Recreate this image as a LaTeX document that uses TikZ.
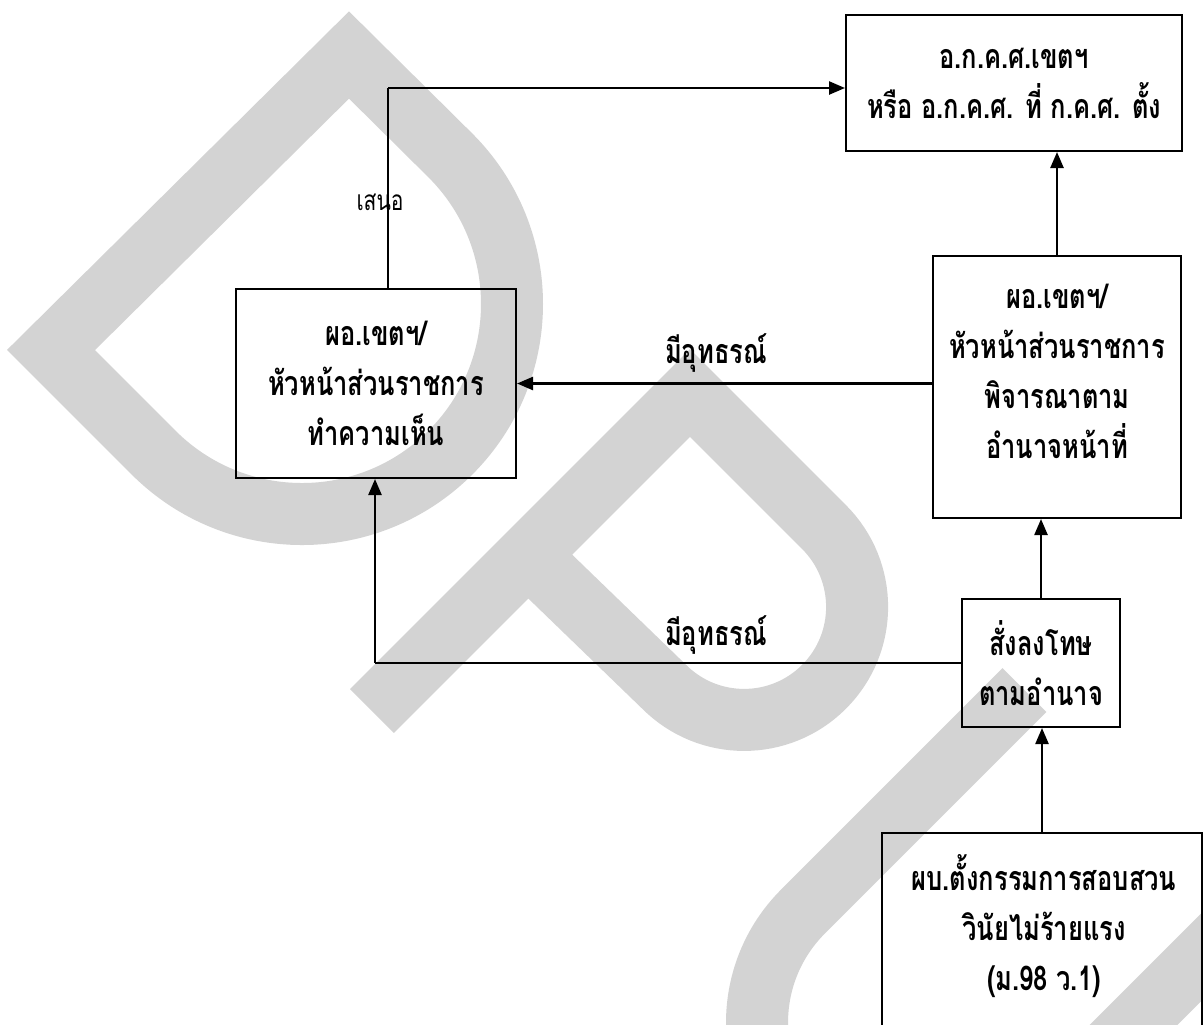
\documentclass[tikz,border=0pt]{standalone}
\usepackage{fontspec}
\usetikzlibrary{arrows.meta}
\newfontfamily\thaifont[Script=Thai,FakeStretch=0.75]{Loma}
\definecolor{wmgray}{RGB}{211,211,211}

\begin{document}
\begin{tikzpicture}[
	x=0.5pt,
	y=-0.5pt,
	>={Triangle[length=8pt,width=6.5pt]},
	box/.style={
		rectangle,
		draw=black,
		line width=1pt,
		align=center,
		inner sep=0pt,
		font=\thaifont\bfseries\fontsize{17}{25}\selectfont
	},
	boxtext/.style={
		align=center,
		inner sep=0pt,
		font=\thaifont\bfseries\fontsize{17}{25}\selectfont
	},
	flowlabel/.style={
		inner sep=0pt,
		font=\thaifont\bfseries\fontsize{17}{25}\selectfont
	},
	watermark/.style={
		draw=wmgray,
		line width=31pt,
		line join=miter,
		line cap=butt
	}
]
\useasboundingbox (0,0) rectangle (1203,1024);

% background letters
\begin{scope}
\clip (0,0) rectangle (1203,1024);
\draw[watermark] (349,55) -- (51,350) -- (153.5,452.5)
	arc[start angle=135, end angle=-45, radius=210] -- cycle;
\draw[watermark] (372,711) -- (690,393) -- (824,527)
	arc[start angle=-45, end angle=135, radius=113] -- (530,557);
\draw[watermark] (1024.5,690) -- (803,911.5)
	arc[start angle=225, end angle=45, radius=157] -- (1246.5,912);
\end{scope}

\node[box, minimum width=168pt, minimum height=68pt] (akks) at (1014,83) {อ.ก.ค.ศ.เขตฯ\\หรือ อ.ก.ค.ศ. ที่ ก.ค.ศ. ตั้ง};
\node[box, minimum width=140pt, minimum height=94.5pt] (opinion) at (376,383.5) {ผอ.เขตฯ/\\หัวหน้าส่วนราชการ\\ทำความเห็น};

\node[box, minimum width=124pt, minimum height=131pt] (consider) at (1057,387) {};
\node[boxtext] (considertext) at (1057,371) {ผอ.เขตฯ/\\หัวหน้าส่วนราชการ\\พิจารณาตาม\\อำนาจหน้าที่};

\node[box, minimum width=79pt, minimum height=64pt] (punish) at (1041,663) {สั่งลงโทษ\\ตามอำนาจ};

\node[box, minimum width=160pt, minimum height=110pt, anchor=north] (appoint) at (1042,832) {};
\node[boxtext] (appointtext) at (1044,926) {ผบ.ตั้งกรรมการสอบสวน\\วินัยไม่ร้ายแรง\\(ม.98 ว.1)};

\draw[very thick,->] (appoint.north) -- (appoint.north |- punish.south);
\draw[very thick,->] (punish.north) -- (punish.north |- consider.south);
\draw[very thick,->] (consider.north) -- (consider.north |- akks.south);

\draw[very thick,->] (consider.west |- opinion.east) -- (opinion.east);
\node[flowlabel] (appealupper) at (716,353) {มีอุทธรณ์};

\coordinate (appealturn) at (375,663);
\draw[semithick] (punish.west) -- (appealturn);
\draw[very thick,->] (appealturn) -- (appealturn |- opinion.south);
\node[flowlabel] (appeallower) at (716,635) {มีอุทธรณ์};

\coordinate (proposeturn) at (388,88);
\draw[semithick] (proposeturn |- opinion.north) -- (proposeturn);
\draw[very thick,->] (proposeturn) -- (proposeturn -| akks.west);
\node[font=\thaifont\fontsize{14}{16}\selectfont, inner sep=0pt] (propose) at (380,202) {เสนอ};

\end{tikzpicture}
\end{document}
